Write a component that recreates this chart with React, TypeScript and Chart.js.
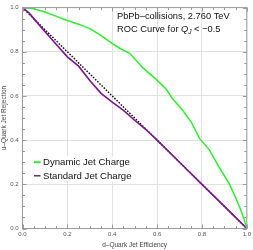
import React, { useEffect, useRef } from "react";
import { Chart, registerables } from "chart.js";

Chart.register(...registerables);

// Dynamic jet charge ROC curve
const effDynamic = [0, 0.05, 0.1, 0.14, 0.196, 0.25, 0.3, 0.344, 0.4, 0.433, 0.478, 0.537, 0.596, 0.641, 0.67, 0.715, 0.752, 0.789, 0.811, 0.833, 0.878, 0.922, 0.95, 0.967, 0.985, 1.0];
const rejDynamic = [1, 0.995, 0.98, 0.965, 0.943, 0.925, 0.905, 0.878, 0.838, 0.816, 0.793, 0.727, 0.675, 0.63, 0.586, 0.534, 0.482, 0.408, 0.382, 0.356, 0.275, 0.202, 0.14, 0.1, 0.05, 0.0];
// Standard jet charge ROC curve
const effStandard = [0, 0.03, 0.08, 0.14, 0.2, 0.25, 0.3, 0.35, 0.4, 0.45, 0.5, 0.55, 0.6, 0.7, 0.8, 0.9, 1.0];
const rejStandard = [1, 0.975, 0.915, 0.845, 0.777, 0.735, 0.67, 0.612, 0.572, 0.535, 0.49, 0.448, 0.4, 0.3, 0.2, 0.1, 0.0];
// Random-guess reference (dotted)
const effRandom = [0, 1];
const rejRandom = [1, 0];

const xTicks = [0, 0.2, 0.4, 0.6, 0.8, 1.0];
const yTicks = [0, 0.2, 0.4, 0.6, 0.8, 1.0];

const legendLabels = ["Dynamic Jet Charge", "Standard Jet Charge"];
const titleLine1 = "PbPb\u2013collisions, 2.760 TeV";
const xTitle = "d\u2013Quark Jet Efficiency";
const yTitle = "u\u2013Quark Jet Rejection";

const GREEN = "#2cf02c";
const PURPLE = "#7d1590";
const FONT = "'Liberation Sans', Arial, sans-serif";

const zip = (xs: number[], ys: number[]) => xs.map((x, i) => ({ x, y: ys[i] }));

const decor = {
  id: "decor",
  afterDatasetsDraw(chart: any) {
    const ctx = chart.ctx as CanvasRenderingContext2D;
    const xs = chart.scales.x;
    const ys = chart.scales.y;
    const a = chart.chartArea;
    ctx.save();
    // frame
    ctx.strokeStyle = "#9a9a9a";
    ctx.lineWidth = 1;
    ctx.strokeRect(a.left, a.top, a.right - a.left, a.bottom - a.top);
    // ticks (inward) on all four sides
    ctx.beginPath();
    for (let i = 0; i <= 20; i++) {
      const v = i * 0.05;
      const major = i % 4 === 0;
      const len = major ? 4 : 2.5;
      const px = Math.round(xs.getPixelForValue(v)) + 0.5;
      const py = Math.round(ys.getPixelForValue(v)) + 0.5;
      ctx.moveTo(px, a.bottom); ctx.lineTo(px, a.bottom - len);
      ctx.moveTo(px, a.top); ctx.lineTo(px, a.top + len);
      ctx.moveTo(a.left, py); ctx.lineTo(a.left + len, py);
      ctx.moveTo(a.right, py); ctx.lineTo(a.right - len, py);
    }
    ctx.stroke();

    // axis titles
    ctx.fillStyle = "#444";
    ctx.font = `6.5px ${FONT}`;
    ctx.textAlign = "center";
    ctx.textBaseline = "middle";
    ctx.fillText(xTitle, (a.left + a.right) / 2, 245.5);
    ctx.save();
    ctx.translate(4.5, (a.top + a.bottom) / 2);
    ctx.rotate(-Math.PI / 2);
    ctx.fillText(yTitle, 0, 0);
    ctx.restore();

    // annotation text
    ctx.fillStyle = "#111";
    ctx.textAlign = "left";
    ctx.textBaseline = "alphabetic";
    ctx.font = `9.3px ${FONT}`;
    ctx.fillText(titleLine1, 117, 18.5);
    let x = 117;
    const y2 = 31.8;
    const p1 = "ROC Curve for ";
    ctx.fillText(p1, x, y2);
    x += ctx.measureText(p1).width;
    ctx.font = `italic 9.3px ${FONT}`;
    ctx.fillText("Q", x, y2);
    x += ctx.measureText("Q").width;
    ctx.font = `italic 6.5px ${FONT}`;
    ctx.fillText("J", x, y2 + 2);
    x += ctx.measureText("J").width;
    ctx.font = `9.3px ${FONT}`;
    ctx.fillText(" < \u22120.5", x, y2);

    // legend
    ctx.fillStyle = "#fff";
    ctx.fillRect(32, 156.5, 102, 25);
    const legendColors = [GREEN, "#4a0c54"];
    const legendY = [162.2, 175.8];
    ctx.font = `9.6px ${FONT}`;
    ctx.textBaseline = "middle";
    legendLabels.forEach((lab, i) => {
      ctx.strokeStyle = legendColors[i];
      ctx.lineWidth = i === 0 ? 2 : 1.3;
      ctx.beginPath();
      ctx.moveTo(34, legendY[i]);
      ctx.lineTo(40.5, legendY[i]);
      ctx.stroke();
      ctx.fillStyle = "#111";
      ctx.fillText(lab, 43, legendY[i] + 0.5);
    });
    ctx.restore();
  },
};

export default function App() {
  const ref = useRef<HTMLCanvasElement>(null);
  useEffect(() => {
    if (!ref.current) return;
    const chart = new Chart(ref.current, {
      type: "line",
      data: {
        datasets: [
          {
            label: legendLabels[0],
            data: zip(effDynamic, rejDynamic),
            borderColor: GREEN,
            borderWidth: 1.5,
            pointRadius: 0,
            tension: 0,
          },
          {
            label: legendLabels[1],
            data: zip(effStandard, rejStandard),
            borderColor: PURPLE,
            borderWidth: 1.6,
            pointRadius: 0,
            tension: 0,
          },
          {
            label: "random",
            data: zip(effRandom, rejRandom),
            borderColor: "#000",
            borderWidth: 1.4,
            borderDash: [1.5, 1.5],
            pointRadius: 0,
            tension: 0,
          },
        ],
      },
      options: {
        responsive: false,
        animation: false,
        devicePixelRatio: 1,
        layout: { padding: { left: 0, right: 5.5, top: 3.5, bottom: 0 } },
        plugins: { legend: { display: false }, tooltip: { enabled: false } },
        scales: {
          x: {
            type: "linear",
            min: 0,
            max: 1,
            afterBuildTicks: (s: any) => { s.ticks = xTicks.map((v) => ({ value: v })); },
            afterFit: (s: any) => { s.height = 21.5; },
            grid: { color: "#e2e2e2", drawTicks: false, lineWidth: 1 },
            border: { display: false },
            ticks: {
              padding: 2,
              color: "#555",
              font: { size: 6, family: FONT },
              maxRotation: 0,
              callback: (v: any) => Number(v).toFixed(1),
            },
          },
          y: {
            type: "linear",
            min: 0,
            max: 1,
            afterBuildTicks: (s: any) => { s.ticks = yTicks.map((v) => ({ value: v })); },
            afterFit: (s: any) => { s.width = 22.5; },
            grid: { color: "#e2e2e2", drawTicks: false, lineWidth: 1 },
            border: { display: false },
            ticks: {
              padding: 4,
              color: "#555",
              font: { size: 6, family: FONT },
              callback: (v: any) => Number(v).toFixed(1),
            },
          },
        },
      },
      plugins: [decor],
    });
    return () => chart.destroy();
  }, []);
  return (
    <div style={{ position: "absolute", left: 0, top: 0, width: 253, height: 250 }}>
      <canvas ref={ref} width={253} height={250} style={{ width: 253, height: 250 }} />
    </div>
  );
}
